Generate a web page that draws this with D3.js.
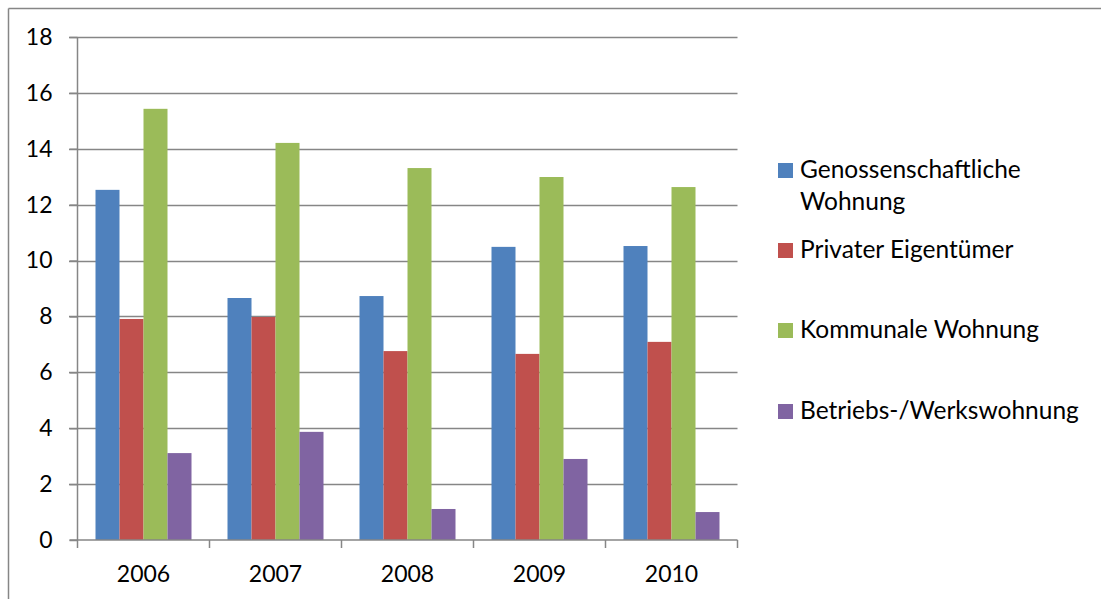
<!DOCTYPE html>
<html>
<head>
<meta charset="utf-8">
<script src="https://cdn.jsdelivr.net/npm/d3@7"></script>
<style>
  body { margin: 0; background: #fff; }
  text { font-family: Lato, "Open Sans", sans-serif; fill: #000; }
</style>
</head>
<body>
<div id="graph"></div>
<script>
const years = ["2006", "2007", "2008", "2009", "2010"];
const seriesNames = ["Genossenschaftliche Wohnung", "Privater Eigentümer", "Kommunale Wohnung", "Betriebs-/Werkswohnung"];
const genossenschaft = [12.53, 8.66, 8.73, 10.49, 10.52];
const privat = [7.91, 7.98, 6.76, 6.66, 7.09];
const kommunal = [15.43, 14.21, 13.31, 12.99, 12.63];
const betrieb = [3.11, 3.87, 1.11, 2.90, 1.00];
const yTicks = [0, 2, 4, 6, 8, 10, 12, 14, 16, 18];
const colors = ["#4f81bd", "#c0504d", "#9bbb59", "#8064a2"];

const allSeries = [genossenschaft, privat, kommunal, betrieb];

const W = 1101, H = 599;
const svg = d3.select("#graph").append("svg").attr("width", W).attr("height", H);

// outer frame (only top + left visible)
svg.append("line").attr("x1", 8.5).attr("x2", W).attr("y1", 8.5).attr("y2", 8.5)
  .attr("stroke", "#868686").attr("stroke-width", 1.5);
svg.append("line").attr("x1", 8.5).attr("x2", 8.5).attr("y1", 8.5).attr("y2", H)
  .attr("stroke", "#868686").attr("stroke-width", 1.5);

const pLeft = 77.5, pRight = 737.5, pTop = 37, pBottom = 540;

const x = d3.scaleBand().domain(years).range([pLeft, pRight]).paddingInner(0).paddingOuter(0);
const xs = d3.scaleBand().domain(d3.range(4)).range([0, x.bandwidth()]).paddingInner(0).paddingOuter(0.75);
const y = d3.scaleLinear().domain([0, 18]).range([pBottom, pTop]);

// gridlines
svg.append("g").selectAll("line").data(yTicks.filter(d => d > 0)).enter().append("line")
  .attr("x1", 69).attr("x2", pRight)
  .attr("y1", d => Math.round(y(d)) + 0.5).attr("y2", d => Math.round(y(d)) + 0.5)
  .attr("stroke", "#868686").attr("stroke-width", 1.3);

// bars
years.forEach((yr, i) => {
  svg.append("g").selectAll("rect").data(allSeries.map((s, k) => ({k: k, v: s[i]}))).enter().append("rect")
    .attr("x", d => x(yr) + xs(d.k))
    .attr("width", xs.bandwidth())
    .attr("y", d => y(d.v))
    .attr("height", d => y(0) - y(d.v))
    .attr("fill", d => colors[d.k]);
});

// y axis
const yAxis = svg.append("g").attr("transform", "translate(" + pLeft + ",0)")
  .call(d3.axisLeft(y).tickValues(yTicks).tickSize(8).tickPadding(17));
yAxis.selectAll("path, line").attr("stroke", "#868686").attr("stroke-width", 1.5);
yAxis.select(".domain").attr("d", "M0," + pTop + "V" + pBottom);
yAxis.selectAll("text").style("font-size", "23px").attr("font-family", null);

// x axis
const xAxis = svg.append("g").attr("transform", "translate(0," + pBottom + ")")
  .call(d3.axisBottom(x).tickSize(0).tickPadding(26));
xAxis.select(".domain").attr("d", "M" + (pLeft - 8) + ",0H" + pRight).attr("stroke", "#868686").attr("stroke-width", 1.5);
xAxis.selectAll("text").style("font-size", "23px").attr("font-family", null);
xAxis.selectAll(".xt").data(d3.range(years.length + 1)).enter().append("line")
  .attr("x1", d => pLeft + d * x.bandwidth()).attr("x2", d => pLeft + d * x.bandwidth())
  .attr("y1", 0).attr("y2", 8).attr("stroke", "#868686").attr("stroke-width", 1.5);

// legend
const legendRows = [
  {k: 0, lines: ["Genossenschaftliche", "Wohnung"], y: 170},
  {k: 1, lines: ["Privater Eigentümer"], y: 250},
  {k: 2, lines: ["Kommunale Wohnung"], y: 330},
  {k: 3, lines: ["Betriebs-/Werkswohnung"], y: 411}
];
const lg = svg.append("g");
legendRows.forEach(r => {
  lg.append("rect").attr("x", 778).attr("y", r.y - 7).attr("width", 15).attr("height", 15).attr("fill", colors[r.k]);
  r.lines.forEach((t, j) => {
    lg.append("text").attr("x", 800).attr("y", r.y + 8 + j * 32).style("font-size", "24.5px").text(t);
  });
});
</script>
</body>
</html>
